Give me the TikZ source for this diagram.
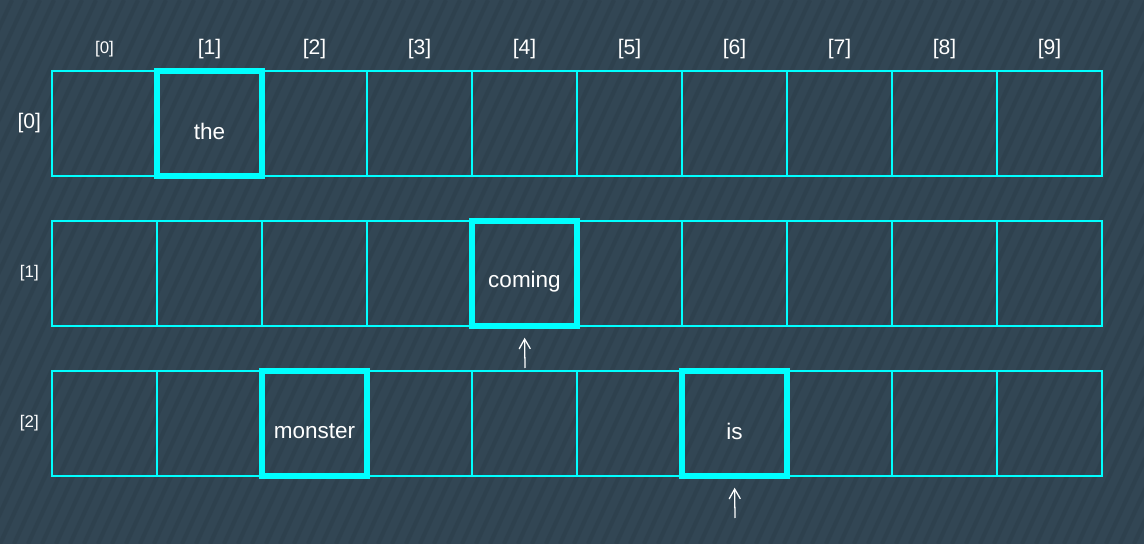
\documentclass[tikz,border=0pt]{standalone}
\usepackage{fontspec}
\setmainfont{Liberation Sans}
\usetikzlibrary{arrows.meta}
\definecolor{bgslate}{RGB}{50,70,84}
\definecolor{stripe}{RGB}{40,55,66}
\definecolor{gridcyan}{RGB}{0,255,255}
\begin{document}
\begin{tikzpicture}[x=0.025cm, y=-0.025cm,
  cell/.style={draw=gridcyan, line width=0.9pt, minimum size=2.625cm, inner sep=0pt},
  word/.style={draw=gridcyan, line width=4.2pt, minimum size=2.625cm, inner sep=0pt,
    label={[text=white, font=\fontsize{16}{19}\selectfont, yshift=-0.2cm]center:#1}},
  idx/.style={text=white, font=\fontsize{15}{18}\selectfont},
  smallidx/.style={text=white, font=\fontsize{12}{14}\selectfont},
  ptr/.style={-{Straight Barb[length=7pt, width=8pt]}, white, line width=0.9pt, shorten >=0.22cm}]
  % background
  \fill[bgslate] (0,0) rectangle (1144,544);
  \useasboundingbox (0,0) rectangle (1144,544);
  \begin{scope}
    \clip (0,0) rectangle (1144,544);
    \foreach \i in {-20,...,82}
      \draw[stripe, line width=3pt, opacity=0.3] (\i*14,544) -- ++(250,-544);
  \end{scope}
  % cells
  \foreach \r in {0,1,2}
    \foreach \c in {0,...,9}
      \node[cell] (c\r\c) at ({104.5+105*\c},{123.5+150*\r}) {};
  % indices
  \node[smallidx] (col0) at ([yshift=0.53cm]c00.north) {[0]};
  \foreach \c in {1,...,9}
    \node[idx] (col\c) at ([yshift=0.53cm]c0\c.north) {[\c]};
  \node[idx] (row0) at ([xshift=-0.55cm]c00.west) {[0]};
  \node[smallidx] (row1) at ([xshift=-0.55cm]c10.west) {[1]};
  \node[smallidx] (row2) at ([xshift=-0.55cm]c20.west) {[2]};
  % words
  \node[word=the] (w-the) at (c01) {};
  \node[word=coming] (w-coming) at (c14) {};
  \node[word=monster] (w-monster) at (c22) {};
  \node[word=is] (w-is) at (c26) {};
  % pointers
  \coordinate (p-coming) at (525,368);
  \coordinate (p-is) at (735,518);
  \draw[ptr] (p-coming) -- (w-coming.south);
  \draw[ptr] (p-is) -- (w-is.south);
\end{tikzpicture}
\end{document}
